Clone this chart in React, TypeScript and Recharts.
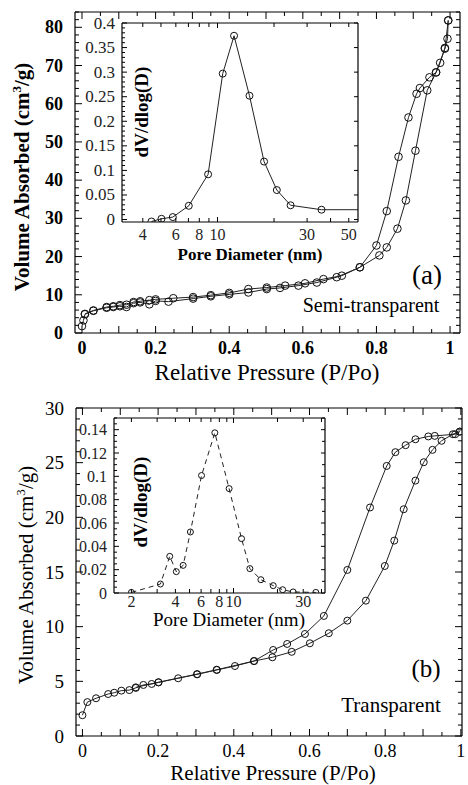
import React from 'react';
import { ComposedChart, Line, XAxis, YAxis } from 'recharts';

const FONT = '"Liberation Serif", "Times New Roman", serif';

// (a) semi-transparent film: N2 isotherm
const aAdsP = [0, 0.004, 0.008, 0.031, 0.067, 0.085, 0.103, 0.121, 0.14, 0.158, 0.183, 0.2, 0.235, 0.302, 0.35, 0.4, 0.452, 0.502, 0.538, 0.588, 0.638, 0.692, 0.755, 0.808, 0.828, 0.857, 0.88, 0.906, 0.938, 0.962, 0.986, 0.995];
const aAdsV = [1.8, 3.3, 4.9, 5.8, 6.6, 6.8, 7.0, 6.8, 7.8, 8.0, 7.5, 8.4, 8.2, 9.0, 9.6, 10.1, 10.6, 11.5, 11.8, 12.4, 13.2, 14.6, 17.2, 20.3, 22.4, 27.3, 34.7, 47.7, 63.5, 68.2, 74.4, 81.8];
const aDesP = [0.995, 0.993, 0.986, 0.973, 0.962, 0.944, 0.918, 0.909, 0.887, 0.86, 0.828, 0.8, 0.755, 0.706, 0.656, 0.606, 0.552, 0.502, 0.452, 0.4, 0.35, 0.302, 0.248, 0.2, 0.183, 0.158, 0.14, 0.121, 0.103, 0.085, 0.067, 0.031, 0.008];
const aDesV = [81.8, 77, 74.6, 70.7, 68.2, 66.9, 64.1, 62.6, 56.4, 46.1, 31.9, 22.9, 17.2, 15.0, 14.1, 13.0, 12.4, 11.9, 11.5, 10.5, 9.9, 9.4, 9.1, 8.8, 8.6, 8.3, 8.1, 7.4, 7.3, 7.0, 6.8, 5.9, 5.0];
// (a) inset: pore size distribution
const aPoreD = [4.45, 5.03, 5.78, 7.03, 8.91, 10.66, 12.25, 14.8, 17.7, 20.7, 24.5, 35.8, 56];
const aPoreV = [-0.004, 0.0015, 0.005, 0.028, 0.092, 0.297, 0.374, 0.252, 0.118, 0.06, 0.029, 0.02, 0.02];

// (b) transparent film
const bAdsP = [0, 0.013, 0.036, 0.068, 0.084, 0.103, 0.124, 0.141, 0.161, 0.183, 0.201, 0.253, 0.303, 0.355, 0.403, 0.454, 0.502, 0.553, 0.601, 0.651, 0.7, 0.749, 0.799, 0.824, 0.849, 0.88, 0.902, 0.925, 0.949, 0.979, 0.997];
const bAdsV = [1.9, 3.1, 3.45, 3.84, 3.96, 4.15, 4.2, 4.4, 4.67, 4.76, 4.9, 5.28, 5.64, 6.04, 6.4, 6.86, 7.2, 7.7, 8.48, 9.4, 10.55, 12.38, 15.55, 17.87, 20.74, 23.36, 25.04, 26.17, 27.0, 27.6, 27.84];
const bDesP = [0.997, 0.985, 0.931, 0.914, 0.88, 0.854, 0.827, 0.804, 0.76, 0.7, 0.638, 0.588, 0.541, 0.504, 0.453, 0.355, 0.303, 0.201, 0.141];
const bDesV = [27.84, 27.6, 27.45, 27.4, 27.14, 26.6, 25.96, 24.7, 20.9, 15.19, 10.98, 9.33, 8.42, 7.87, 6.85, 6.06, 5.66, 4.92, 4.45];
const bPoreD = [2.0, 3.16, 3.66, 4.06, 4.52, 5.07, 6.04, 7.45, 9.33, 11.35, 12.94, 15.4, 18.7, 21.7, 25.6, 36.6];
const bPoreV = [0.0005, 0.0077, 0.0314, 0.0183, 0.0237, 0.0523, 0.1007, 0.1373, 0.0895, 0.0466, 0.0209, 0.0114, 0.0063, 0.0028, 0.0009, 0.0005];

// tick labels
const pLabels = [0, 0.2, 0.4, 0.6, 0.8, 1];
const aVLabels = [0, 10, 20, 30, 40, 50, 60, 70, 80];
const bVLabels = [0, 5, 10, 15, 20, 25, 30];
const aInsetYLabels = [0, 0.05, 0.1, 0.15, 0.2, 0.25, 0.3, 0.35, 0.4];
const aInsetXTicks = [4, 5, 6, 7, 8, 9, 10, 20, 30, 40, 50];
const aInsetXLabels = [4, 6, 8, 10, 30, 50];
const bInsetYLabels = [0, 0.02, 0.04, 0.06, 0.08, 0.1, 0.12, 0.14];
const bInsetXTicks = [2, 3, 4, 5, 6, 7, 8, 9, 10, 20, 30, 40];
const bInsetXLabels = [2, 4, 6, 8, 10, 30];

const steps = (from: number, to: number, step: number) => {
  const out: number[] = [];
  const n = Math.round((to - from) / step);
  for (let i = 0; i <= n; i++) out.push(Math.round((from + i * step) * 1e6) / 1e6);
  return out;
};

const rows = (xs: number[], ys: number[]) => xs.map((x, i) => ({ x, v: ys[i] }));

type Side = 'bottom' | 'top' | 'left' | 'right';
interface TickOpts {
  side: Side;
  labels?: number[];
  major?: number[];
  long: number;
  short: number;
  gap?: number;
  size?: number;
  weight?: number;
  color?: string;
}

const has = (arr: number[] | undefined, v: number) => !!arr && arr.some((a) => Math.abs(a - v) < 1e-7);

const makeTick = (o: TickOpts) => (props: any) => {
  const { x, y, payload } = props;
  const v = payload.value as number;
  const big = has(o.major ?? o.labels, v);
  const len = big ? o.long : o.short;
  const lab = has(o.labels, v) ? String(v) : null;
  const gap = o.gap ?? 0;
  const ts: React.CSSProperties = { fontFamily: FONT, fontSize: o.size, fontWeight: o.weight ?? 400, fill: o.color ?? '#000' };
  let d = '';
  let t: React.ReactNode = null;
  if (o.side === 'bottom') {
    d = `M${x},${y}V${y - len}`;
    if (lab) t = <text x={x} y={y + gap} textAnchor="middle" dominantBaseline="central" style={ts}>{lab}</text>;
  } else if (o.side === 'top') {
    d = `M${x},${y}V${y + len}`;
  } else if (o.side === 'left') {
    d = `M${x},${y}H${x + len}`;
    if (lab) t = <text x={x - gap} y={y} textAnchor="end" dominantBaseline="central" style={ts}>{lab}</text>;
  } else {
    d = `M${x},${y}H${x - len}`;
  }
  return (
    <g>
      <path d={d} stroke="#000" strokeWidth={1} fill="none" />
      {t}
    </g>
  );
};

const axisLine = { stroke: '#000', strokeWidth: 1.2 };
const common = { tickLine: false, tickSize: 0, tickMargin: 0, interval: 0 as const, axisLine, allowDataOverflow: true, type: 'number' as const };

const circleDot = (r: number, skipLast = 0) => (props: any) => {
  const { cx, cy, index, points } = props;
  const n = points ? points.length : 0;
  if (skipLast && index >= n - skipLast) return <circle key={`d${index}`} cx={cx} cy={cy} r={0} fill="none" />;
  return <circle key={`d${index}`} cx={cx} cy={cy} r={r} stroke="#111" strokeWidth={1} fill="none" />;
};

const Txt: React.FC<{ x: number; y: number; size: number; bold?: boolean; rotate?: boolean; children: React.ReactNode }> = ({ x, y, size, bold, rotate, children }) => (
  <div
    style={{
      position: 'absolute',
      left: x,
      top: y,
      transform: `translate(-50%, -50%)${rotate ? ' rotate(-90deg)' : ''}`,
      fontFamily: FONT,
      fontSize: size,
      fontWeight: bold ? 700 : 400,
      whiteSpace: 'nowrap',
      lineHeight: 1,
      color: '#000',
    }}
  >
    {children}
  </div>
);

const sup = <sup style={{ fontSize: '0.62em', verticalAlign: '0.55em', lineHeight: 0 }}>3</sup>;

const App: React.FC = () => {
  const aDom: [number, number] = [-0.019, 1.027];
  const bDom: [number, number] = [-0.017, 1.003];
  return (
    <div style={{ position: 'fixed', left: 0, top: 0, width: 468, height: 785, background: '#fff', overflow: 'hidden' }}>
      {/* panel (a) */}
      <div style={{ position: 'absolute', left: 0, top: 0 }}>
        <ComposedChart width={468} height={392} margin={{ top: 0, right: 0, bottom: 0, left: 0 }}>
          <XAxis {...common} xAxisId="b" dataKey="x" orientation="bottom" height={59} domain={aDom} ticks={steps(0, 1, 0.05)}
            tick={makeTick({ side: 'bottom', labels: pLabels, major: steps(0, 1, 0.1), long: 7, short: 4, gap: 15, size: 18, weight: 700 })} />
          <XAxis {...common} xAxisId="t" dataKey="x" orientation="top" height={12} domain={aDom} ticks={steps(0, 1, 0.05)}
            tick={makeTick({ side: 'top', major: steps(0, 1, 0.1), long: 7, short: 4 })} />
          <YAxis {...common} yAxisId="l" orientation="left" width={75} domain={[0, 84]} ticks={steps(0, 84, 2)}
            tick={makeTick({ side: 'left', labels: aVLabels, long: 7, short: 4, gap: 12, size: 18, weight: 700 })} />
          <YAxis {...common} yAxisId="r" orientation="right" width={8} domain={[0, 84]} ticks={steps(0, 84, 2)}
            tick={makeTick({ side: 'right', major: aVLabels, long: 7, short: 4 })} />
          <Line data={rows(aAdsP, aAdsV)} xAxisId="b" yAxisId="l" dataKey="v" type="linear" stroke="#222" strokeWidth={1} dot={circleDot(3.8)} isAnimationActive={false} />
          <Line data={rows(aDesP, aDesV)} xAxisId="b" yAxisId="l" dataKey="v" type="linear" stroke="#222" strokeWidth={1} dot={circleDot(3.8)} isAnimationActive={false} />
        </ComposedChart>
      </div>
      {/* inset (a) */}
      <div style={{ position: 'absolute', left: 70, top: 5 }}>
        <ComposedChart width={300} height={250} margin={{ top: 0, right: 0, bottom: 0, left: 0 }}>
          <XAxis {...common} xAxisId="b" dataKey="x" scale="log" orientation="bottom" height={33} domain={[3.1, 56]} ticks={aInsetXTicks}
            tick={makeTick({ side: 'bottom', labels: aInsetXLabels, major: [10], long: 5, short: 4, gap: 12, size: 16, color: '#222' })} />
          <XAxis {...common} xAxisId="t" dataKey="x" scale="log" orientation="top" height={18} domain={[3.1, 56]} ticks={aInsetXTicks}
            tick={makeTick({ side: 'top', major: [10], long: 5, short: 4 })} />
          <YAxis {...common} yAxisId="l" orientation="left" width={52} domain={[-0.005, 0.4]} ticks={steps(0, 0.4, 0.01)}
            tick={makeTick({ side: 'left', labels: aInsetYLabels, long: 5, short: 3, gap: 7, size: 17, color: '#222' })} />
          <YAxis {...common} yAxisId="r" orientation="right" width={12} domain={[-0.005, 0.4]} ticks={aInsetYLabels}
            tick={makeTick({ side: 'right', major: aInsetYLabels, long: 4, short: 3 })} />
          <Line data={rows(aPoreD, aPoreV)} xAxisId="b" yAxisId="l" dataKey="v" type="linear" stroke="#222" strokeWidth={1} dot={circleDot(3.5, 1)} isAnimationActive={false} />
        </ComposedChart>
      </div>
      {/* panel (b) */}
      <div style={{ position: 'absolute', left: 0, top: 392 }}>
        <ComposedChart width={468} height={393} margin={{ top: 0, right: 0, bottom: 0, left: 0 }}>
          <XAxis {...common} xAxisId="b" dataKey="x" orientation="bottom" height={49} domain={bDom} ticks={steps(0, 1, 0.05)}
            tick={makeTick({ side: 'bottom', labels: pLabels, major: steps(0, 1, 0.1), long: 7, short: 4, gap: 15, size: 18 })} />
          <XAxis {...common} xAxisId="t" dataKey="x" orientation="top" height={16} domain={bDom} ticks={steps(0, 1, 0.05)}
            tick={makeTick({ side: 'top', major: steps(0, 1, 0.1), long: 7, short: 4 })} />
          <YAxis {...common} yAxisId="l" orientation="left" width={76} domain={[0, 30]} ticks={steps(0, 30, 1)}
            tick={makeTick({ side: 'left', labels: bVLabels, long: 7, short: 4, gap: 12, size: 19 })} />
          <YAxis {...common} yAxisId="r" orientation="right" width={6} domain={[0, 30]} ticks={steps(0, 30, 1)}
            tick={makeTick({ side: 'right', major: bVLabels, long: 7, short: 4 })} />
          <Line data={rows(bAdsP, bAdsV)} xAxisId="b" yAxisId="l" dataKey="v" type="linear" stroke="#222" strokeWidth={1} dot={circleDot(3.5)} isAnimationActive={false} />
          <Line data={rows(bDesP, bDesV)} xAxisId="b" yAxisId="l" dataKey="v" type="linear" stroke="#222" strokeWidth={1} dot={circleDot(3.5)} isAnimationActive={false} />
        </ComposedChart>
      </div>
      {/* inset (b) */}
      <div style={{ position: 'absolute', left: 60, top: 400 }}>
        <ComposedChart width={280} height={225} margin={{ top: 0, right: 0, bottom: 0, left: 0 }}>
          <XAxis {...common} xAxisId="b" dataKey="x" scale="log" orientation="bottom" height={32} domain={[1.52, 42.3]} ticks={bInsetXTicks}
            tick={makeTick({ side: 'bottom', labels: bInsetXLabels, major: [10], long: 5, short: 4, gap: 8, size: 16, color: '#222' })} />
          <XAxis {...common} xAxisId="t" dataKey="x" scale="log" orientation="top" height={18} domain={[1.52, 42.3]} ticks={bInsetXTicks}
            tick={makeTick({ side: 'top', major: [10], long: 5, short: 4 })} />
          <YAxis {...common} yAxisId="l" orientation="left" width={54} domain={[0, 0.15]} ticks={steps(0, 0.15, 0.005)}
            tick={makeTick({ side: 'left', labels: bInsetYLabels, long: 5, short: 3, gap: 7, size: 16, color: '#222' })} />
          <YAxis {...common} yAxisId="r" orientation="right" width={15} domain={[0, 0.15]} ticks={steps(0, 0.15, 0.01)}
            tick={makeTick({ side: 'right', major: bInsetYLabels, long: 4, short: 3 })} />
          <Line data={rows(bPoreD, bPoreV)} xAxisId="b" yAxisId="l" dataKey="v" type="linear" stroke="#222" strokeWidth={1} strokeDasharray="5 4" dot={circleDot(3)} isAnimationActive={false} />
        </ComposedChart>
      </div>

      {/* titles and annotations */}
      <Txt x={22} y={177} size={21} bold rotate>Volume Absorbed (cm{sup}/g)</Txt>
      <Txt x={267} y={372} size={23}>Relative Pressure (P/Po)</Txt>
      <Txt x={427} y={275} size={27}>(a)</Txt>
      <Txt x={371} y={305} size={20}>Semi-transparent</Txt>
      <Txt x={141} y={112} size={19} bold rotate>dV/dlog(D)</Txt>
      <Txt x={250} y={254} size={17} bold>Pore Diameter (nm)</Txt>

      <Txt x={26} y={575} size={21} rotate>Volume Absorbed (cm{sup}/g)</Txt>
      <Txt x={273} y={773} size={21}>Relative Pressure (P/Po)</Txt>
      <Txt x={426} y={668} size={25}>(b)</Txt>
      <Txt x={391} y={705} size={21}>Transparent</Txt>
      <Txt x={140} y={502} size={19} bold rotate>dV/dlog(D)</Txt>
      <Txt x={229} y={619} size={19}>Pore Diameter (nm)</Txt>
    </div>
  );
};

export default App;
